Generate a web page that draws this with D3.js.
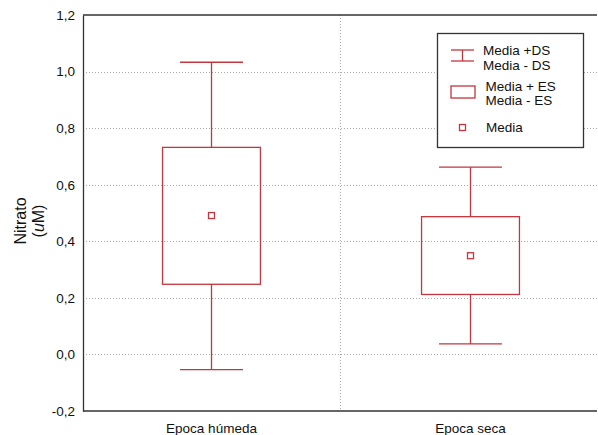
<!DOCTYPE html>
<html><head><meta charset="utf-8">
<script src="https://cdn.jsdelivr.net/npm/d3@7"></script>
<style>body{margin:0;background:#fff}svg{display:block;font-family:"Liberation Sans",Arial,sans-serif}</style>
</head><body>
<svg id="c" width="598" height="435"></svg>
<script>
const categories = ["Epoca húmeda", "Epoca seca"];
const means  = [0.491, 0.349];
const esHigh = [0.732, 0.487];
const esLow  = [0.248, 0.212];
const dsHigh = [1.033, 0.662];
const dsLow  = [-0.054, 0.037];
const yTicks = [-0.2, 0, 0.2, 0.4, 0.6, 0.8, 1.0, 1.2];
const legendItems = [["Media +DS","Media - DS"],["Media + ES","Media - ES"],["Media"]];

const red = "#c4353d", axisCol = "#333";
const svg = d3.select("#c");
const L = 83, R = 597, T = 15, B = 411;
const y = d3.scaleLinear().domain([-0.2, 1.2]).range([B, T]);
const x = d3.scaleBand().domain(categories).range([82, 600]).padding(0);
const loc = d3.formatLocale({decimal: ",", thousands: ".", grouping: [3], currency: ["", ""], minus: "-"});
const fmt = loc.format(".1f");

// grid
svg.append("g").selectAll("line").data(yTicks.slice(1, -1)).join("line")
  .attr("x1", L).attr("x2", 598).attr("y1", d => Math.round(y(d)) + 0.5).attr("y2", d => Math.round(y(d)) + 0.5)
  .attr("stroke", "#aaa").attr("stroke-width", 1).attr("stroke-dasharray", "1,2");
svg.append("line").attr("x1", 340.5).attr("x2", 340.5).attr("y1", T).attr("y2", B)
  .attr("stroke", "#aaa").attr("stroke-dasharray", "1,2");

// axes
const yAxis = d3.axisLeft(y).tickValues(yTicks).tickFormat(fmt).tickSize(0).tickPadding(8);
const gy = svg.append("g").attr("transform", `translate(${L},0)`).call(yAxis);
gy.select(".domain").attr("stroke", axisCol).attr("stroke-width", 1.3);
gy.selectAll("text").attr("font-size", 13.5).attr("fill", "#111").attr("font-family", "Liberation Sans, Arial, sans-serif");
const xAxis = d3.axisBottom(x).tickSize(0).tickPadding(12);
const gx = svg.append("g").attr("transform", `translate(0,${B})`).call(xAxis);
gx.select(".domain").remove();
gx.selectAll("text").attr("font-size", 13.5).attr("fill", "#111").attr("font-family", "Liberation Sans, Arial, sans-serif");
svg.append("line").attr("x1", L).attr("x2", R).attr("y1", B).attr("y2", B).attr("stroke", axisCol).attr("stroke-width", 1.3);
svg.append("line").attr("x1", L).attr("x2", R).attr("y1", T).attr("y2", T).attr("stroke", axisCol).attr("stroke-width", 1.3);

// y label
const yl = svg.append("text").attr("transform", "translate(26,221) rotate(-90)")
  .attr("text-anchor", "middle").attr("font-size", 16).attr("fill", "#111");
yl.append("tspan").attr("x", 0).attr("y", 0).text("Nitrato");
const t2 = yl.append("tspan").attr("x", 0).attr("dy", 18);
t2.append("tspan").text("(");
t2.append("tspan").attr("font-style", "italic").text("u");
t2.append("tspan").text("M)");

// marks
const bw = x.bandwidth();
const boxW = bw * 0.378, capW = bw * 0.243;
const g = svg.append("g").attr("fill", "none").attr("stroke", red).attr("stroke-width", 1.3);
categories.forEach((c, i) => {
  const cx = x(c) + bw / 2;
  g.append("line").attr("x1", cx).attr("x2", cx).attr("y1", y(dsHigh[i])).attr("y2", y(esHigh[i]));
  g.append("line").attr("x1", cx).attr("x2", cx).attr("y1", y(esLow[i])).attr("y2", y(dsLow[i]));
  g.append("line").attr("x1", cx - capW / 2).attr("x2", cx + capW / 2).attr("y1", y(dsHigh[i])).attr("y2", y(dsHigh[i]));
  g.append("line").attr("x1", cx - capW / 2).attr("x2", cx + capW / 2).attr("y1", y(dsLow[i])).attr("y2", y(dsLow[i]));
  g.append("rect").attr("x", cx - boxW / 2).attr("width", boxW)
    .attr("y", y(esHigh[i])).attr("height", y(esLow[i]) - y(esHigh[i]));
  g.append("rect").attr("x", cx - 3).attr("y", y(means[i]) - 3).attr("width", 6).attr("height", 6);
});

// legend
const lg = svg.append("g");
lg.append("rect").attr("x", 437.5).attr("y", 33.5).attr("width", 146).attr("height", 114)
  .attr("fill", "#fff").attr("stroke", axisCol).attr("stroke-width", 1.3);
const li = lg.append("g").attr("fill", "none").attr("stroke", red).attr("stroke-width", 1.3);
li.append("line").attr("x1", 451).attr("x2", 474).attr("y1", 50).attr("y2", 50);
li.append("line").attr("x1", 451).attr("x2", 474).attr("y1", 61).attr("y2", 61);
li.append("line").attr("x1", 462.5).attr("x2", 462.5).attr("y1", 50).attr("y2", 61);
li.append("rect").attr("x", 451).attr("y", 86).attr("width", 24).attr("height", 12);
li.append("rect").attr("x", 459.5).attr("y", 124.5).attr("width", 6).attr("height", 6);
const lt = lg.append("g").attr("font-size", 13.5).attr("fill", "#111");
const pos = [[483, 54.5, 69.5], [485.5, 91, 105], [486, 131.5]];
legendItems.forEach((it, i) => {
  it.forEach((t, j) => lt.append("text").attr("x", pos[i][0]).attr("y", pos[i][1 + j]).text(t));
});
</script>
</body></html>
